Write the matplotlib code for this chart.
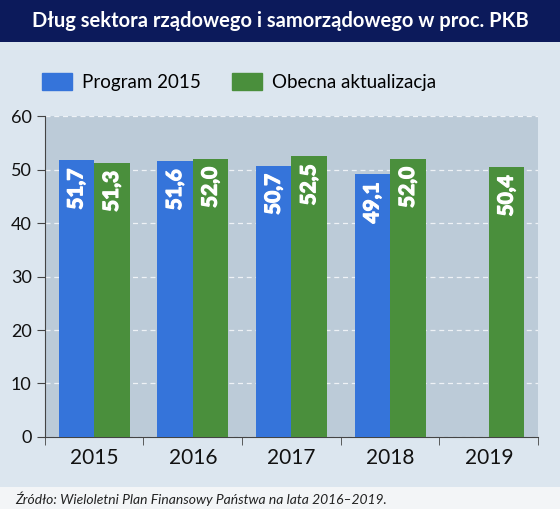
import matplotlib
matplotlib.use("Agg")
import matplotlib.pyplot as plt
import matplotlib.patheffects as pe
from matplotlib.patches import Rectangle
import numpy as np

plt.rcParams['font.family'] = ['Lato', 'DejaVu Sans']

years = ['2015', '2016', '2017', '2018', '2019']
program_2015 = [51.7, 51.6, 50.7, 49.1, None]
obecna = [51.3, 52.0, 52.5, 52.0, 50.4]
series_names = ['Program 2015', 'Obecna aktualizacja']
title = 'Dług sektora rządowego i samorządowego w proc. PKB'
source = 'Źródło: Wieloletni Plan Finansowy Państwa na lata 2016–2019.'

blue = '#3574da'
green = '#4a8f3c'
bg = '#dce6ef'
plot_bg = '#bccbd8'

fig = plt.figure(figsize=(5.6, 5.09), dpi=100)
fig.patch.set_facecolor(bg)

# header and footer bands
fig.patches.append(Rectangle((0, 0.9175), 1, 0.0825, transform=fig.transFigure,
                             facecolor='#0c1a5b', edgecolor='none', zorder=0))
fig.patches.append(Rectangle((0, 0), 1, 0.043, transform=fig.transFigure,
                             facecolor='#f3f5f7', edgecolor='none', zorder=0))
fig.text(0.5, 0.958, title, color='white', fontsize=14.5, fontweight='bold',
         ha='center', va='center')
fig.text(0.027, 0.021, source, color='#222222', fontsize=10, style='italic',
         ha='left', va='center')

ax = fig.add_axes([0.080, 0.1415, 0.881, 0.6305])
ax.set_facecolor(plot_bg)

# labels in the bars are very heavy in the original, thicken with a stroke
thick = [pe.withStroke(linewidth=0.9, foreground='white')]

x = np.arange(len(years))
w = 0.36
for i, v in enumerate(program_2015):
    if v is None:
        continue
    ax.bar(x[i] - w / 2, v, w, color=blue, zorder=3)
    ax.text(x[i] - w / 2, v - 1.5, f'{v:.1f}'.replace('.', ','), rotation=90,
            color='white', fontsize=15, fontweight='bold', ha='center', va='top',
            zorder=4, path_effects=thick)
for i, v in enumerate(obecna):
    ax.bar(x[i] + w / 2, v, w, color=green, zorder=3)
    ax.text(x[i] + w / 2, v - 1.5, f'{v:.1f}'.replace('.', ','), rotation=90,
            color='white', fontsize=15, fontweight='bold', ha='center', va='top',
            zorder=4, path_effects=thick)

ax.set_xlim(-0.5, len(years) - 0.5)
ax.set_ylim(0, 60)
ax.set_yticks(range(0, 61, 10))
ax.set_xticks(x)
ax.set_xticklabels(years, fontsize=15, color='#111111')
ax.set_xticks(np.arange(-0.5, len(years)), minor=True)
ax.tick_params(axis='x', which='major', length=0, pad=8)
ax.tick_params(axis='x', which='minor', length=6, color='#444444')
ax.tick_params(axis='y', labelsize=13, length=6, color='#444444', labelcolor='#111111')
ax.grid(axis='y', color='#eef2f6', linestyle=(0, (4, 3)), linewidth=0.9, zorder=1)
for s in ['top', 'right']:
    ax.spines[s].set_visible(False)
for s in ['left', 'bottom']:
    ax.spines[s].set_color('#444444')

handles = [Rectangle((0, 0), 1, 1, color=blue), Rectangle((0, 0), 1, 1, color=green)]
fig.legend(handles, series_names, loc='center left', bbox_to_anchor=(0.062, 0.839),
           ncol=2, frameon=False, fontsize=13.5, handlelength=1.6, handleheight=1.0,
           columnspacing=1.7, handletextpad=0.5, borderaxespad=0)

fig.savefig('out.png', dpi=100, facecolor=fig.get_facecolor())
